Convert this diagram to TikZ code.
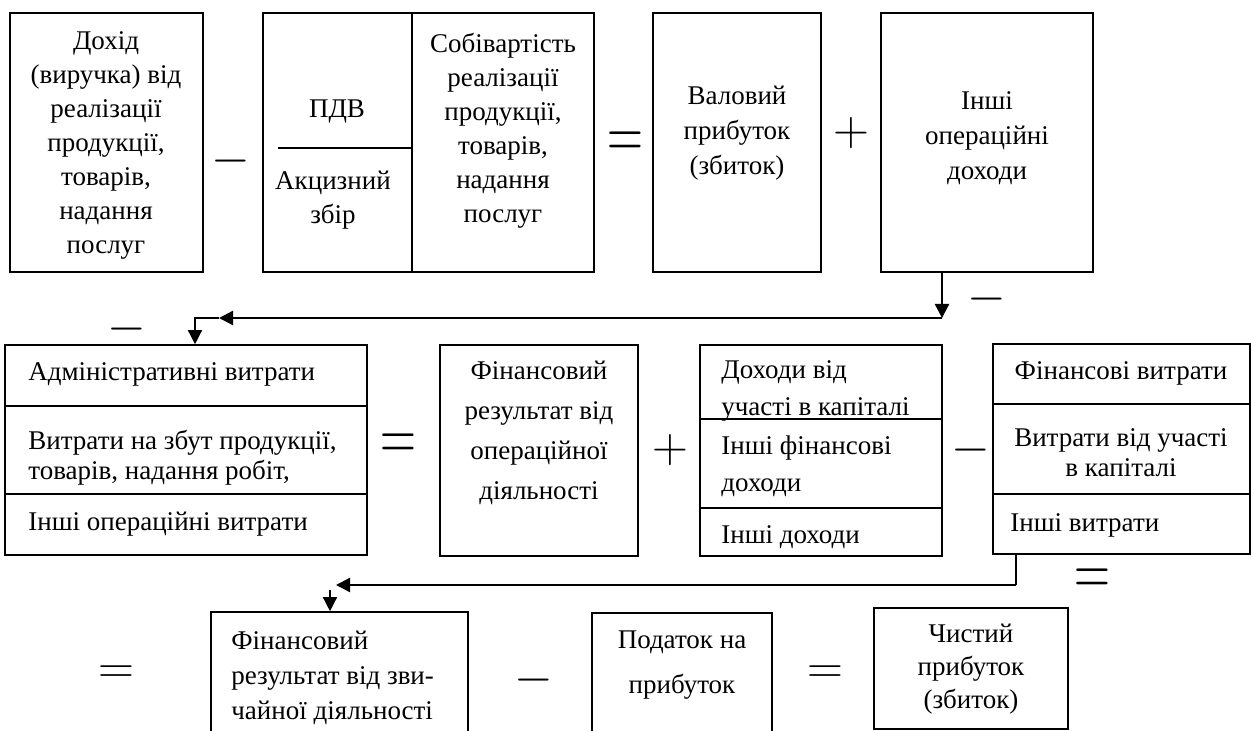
\documentclass[tikz,border=0pt]{standalone}
\usepackage{fontspec}
\setmainfont{Liberation Serif}
\usetikzlibrary{fit,arrows.meta}

\begin{document}
\begin{tikzpicture}[x=0.5pt, y=-0.5pt,
  cell/.style={rectangle, draw, line width=0.8pt, inner sep=0pt},
  txt/.style={align=center, inner sep=0pt, font=\fontsize{13.5}{17}\selectfont},
  ltxt/.style={txt, align=left, anchor=west},
  lead/.style={font=\fontsize{13.5}{#1}\selectfont},
  sign/.style={inner sep=0pt, font=\fontsize{23}{23}\selectfont},
  arrow/.style={-{Triangle[length=7pt,width=7pt]}, line width=1.1pt},
  link/.style={line width=0.7pt}]

  \useasboundingbox (0,0) rectangle (1251,731);
  \clip (0,0) rectangle (1251,731);

  \node[cell, fit={(10,13) (203,272)}] (dohid) {};
  \node[cell, fit={(263,13) (412,272)}] (pdv) {};
  \node[cell, fit={(412,13) (594,272)}] (sobiv) {};
  \node[cell, fit={(653,13) (821,272)}] (valovyi) {};
  \node[cell, fit={(881,13) (1093,272)}] (inshiop) {};

  \node[cell, fit={(5,345) (367,406)}] (adm) {};
  \node[cell, fit={(5,406) (367,494)}] (zbut) {};
  \node[cell, fit={(5,494) (367,555)}] (inshv) {};
  \node[cell, fit={(440,345) (638,556)}] (finop) {};
  \node[cell, fit={(700,345) (942,419)}] (doh1) {};
  \node[cell, fit={(700,419) (942,508)}] (doh2) {};
  \node[cell, fit={(700,508) (942,556)}] (doh3) {};
  \node[cell, fit={(993,344) (1250,404)}] (fv1) {};
  \node[cell, fit={(993,404) (1250,494)}] (fv2) {};
  \node[cell, fit={(993,494) (1250,554)}] (fv3) {};

  \node[cell, fit={(211,612) (468,750)}] (finzv) {};
  \node[cell, fit={(592,613) (772,750)}] (podatok) {};
  \node[cell, fit={(874,608) (1068,729)}] (chystyi) {};

  \node[txt] (dohidt) at (106,145) {Дохід\\(виручка) від\\реалізації\\продукції,\\товарів,\\надання\\послуг};
  \node[txt] (pdvt) at (337,112) {ПДВ};
  \draw[link] (278,148) -- (412,148);
  \node[txt] (akcyzt) at (333,200) {Акцизний\\збір};
  \node[txt] (sobivt) at (503,131) {Собівартість\\реалізації\\продукції,\\товарів,\\надання\\послуг};
  \node[txt, lead=17.5pt] (valovyit) at (737,133) {Валовий\\прибуток\\(збиток)};
  \node[txt, lead=17.5pt] (inshiopt) at (987,138) {Інші\\операційні\\доходи};

  \node[ltxt] (admt) at (28,374) {Адміністративні витрати};
  \node[ltxt, lead=15pt] (zbutt) at (28,458) {Витрати на збут продукції,\\товарів, надання робіт,};
  \node[ltxt] (inshvt) at (28,524) {Інші операційні витрати};
  \node[txt, lead=20pt] (finopt) at (539,433) {Фінансовий\\результат від\\операційної\\діяльності};
  \node[ltxt, lead=18.5pt] (doh1t) at (721,391) {Доходи від\\участі в капіталі};
  \node[ltxt, lead=18.5pt] (doh2t) at (721,466) {Інші фінансові\\доходи};
  \node[ltxt] (doh3t) at (721,537) {Інші доходи};
  \node[txt] (fv1t) at (1121,373) {Фінансові витрати};
  \node[txt, lead=15pt] (fv2t) at (1121,453) {Витрати від участі\\в капіталі};
  \node[ltxt] (fv3t) at (1010,525) {Інші витрати};

  \node[ltxt, lead=17.5pt] (finzvt) at (231,678) {Фінансовий\\результат від зви-\\чайної діяльності};
  \node[txt, lead=22.5pt] (podatokt) at (682,665) {Податок на\\прибуток};
  \node[txt, lead=16.5pt] (chystyit) at (971,669) {Чистий\\прибуток\\(збиток)};

  \node[sign] (m1) at (231,161) {$-$};
  \node[sign] (e1) at (625,145) {\scalebox{1}[1.5]{$=$}};
  \node[sign] (p1) at (851,133) {$+$};
  \node[sign] (m2) at (987,299) {$-$};
  \node[sign] (m3) at (127,329) {$-$};
  \node[sign] (e2) at (398,447) {\scalebox{1}[1.5]{$=$}};
  \node[sign] (p2) at (670,450) {$+$};
  \node[sign] (m4) at (971,450) {$-$};
  \node[sign] (e3) at (1092,582) {\scalebox{1}[1.5]{$=$}};
  \node[sign] (e4) at (116,675) {$=$};
  \node[sign] (m5) at (534,680) {$-$};
  \node[sign] (e5) at (825,675) {$=$};

  \coordinate (k1) at (942,318);
  \coordinate (k2) at (219,318);
  \coordinate (k3) at (195,318);
  \coordinate (k4) at (1016,585);
  \coordinate (k5) at (336,585);
  \coordinate (k6) at (330,590);

  \draw[arrow] (k1 |- inshiop.south) -- (k1);
  \draw[arrow] (k1) -- (k2);
  \draw[link, -{Triangle[length=7pt,width=7pt]}] (k2) -- (k3) -- (k3 |- adm.north);
  \draw[line width=1.1pt] (k4 |- fv3.south) -- (k4);
  \draw[arrow] (k4) -- (k5);
  \draw[link, -{Triangle[length=7pt,width=7pt]}] (k6) -- (k6 |- finzv.north);

\end{tikzpicture}
\end{document}
